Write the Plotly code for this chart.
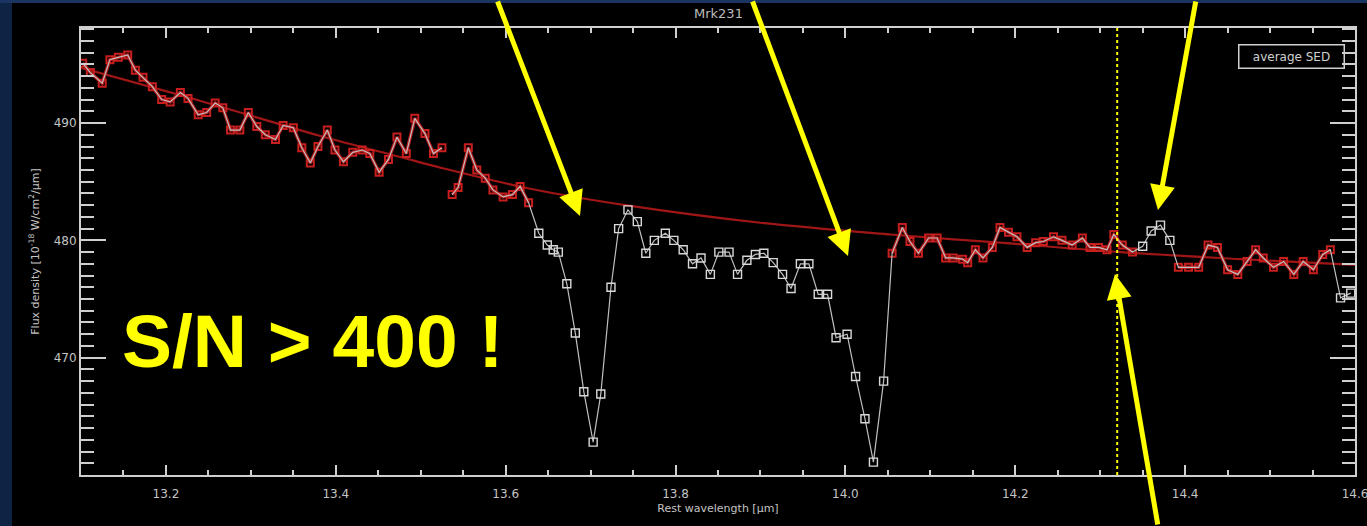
import plotly.graph_objects as go

# ---------------- data ----------------
wavelength = [13.102, 13.111, 13.125, 13.134, 13.144, 13.155, 13.164, 13.173, 13.184, 13.195,
              13.205, 13.217, 13.226, 13.238, 13.248, 13.258, 13.267, 13.276, 13.287, 13.297,
              13.307, 13.317, 13.329, 13.338, 13.350, 13.360, 13.370, 13.379, 13.390, 13.399,
              13.409, 13.420, 13.431, 13.440, 13.451, 13.462, 13.472, 13.483, 13.493, 13.505,
              13.515, 13.525, None,
              13.537, 13.544, 13.556, 13.566, 13.576, 13.585, 13.597, 13.608, 13.617, 13.627,
              13.639, 13.649, 13.656, 13.662, 13.672, 13.682, 13.692, 13.703, 13.712, 13.724,
              13.733, 13.744, 13.755, 13.765, 13.775, 13.788, 13.798, 13.809, 13.820, 13.830,
              13.841, 13.851, 13.863, 13.873, 13.884, 13.894, 13.904, 13.915, 13.926, 13.936,
              13.947, 13.957, 13.968, 13.979, 13.989, 14.002, 14.012, 14.023, 14.033, 14.045,
              14.055, 14.067, 14.076, 14.086, 14.098, 14.108, 14.118, 14.127, 14.138, 14.144,
              14.153, 14.162, 14.173, 14.182, 14.192, 14.202, 14.214, 14.224, 14.233, 14.245,
              14.255, 14.267, 14.279, 14.288, 14.298, 14.308, 14.316, 14.326, 14.338,
              14.350, 14.360, 14.371, 14.382,
              14.392, 14.404, 14.416, 14.427, 14.438, 14.450, 14.462, 14.473, 14.483, 14.492,
              14.504, 14.516, 14.528, 14.539, 14.551, 14.562, 14.571,
              14.583, 14.595]

flux = [495.1, 494.3, 493.4, 495.4, 495.6, 495.8, 494.5, 493.9, 493.1, 492.0,
        491.8, 492.6, 492.1, 490.7, 490.9, 491.7, 491.3, 489.4, 489.4, 490.9,
        489.7, 489.0, 488.6, 489.8, 489.6, 487.9, 486.6, 488.0, 489.4, 487.7,
        486.7, 487.5, 487.7, 487.4, 485.8, 486.9, 488.8, 487.4, 490.4, 489.1,
        487.4, 487.9, None,
        483.9, 484.5, 487.9, 486.0, 485.3, 484.3, 483.7, 483.9, 484.6, 483.2,
        480.6, 479.6, 479.2, 479.0, 476.3, 472.1, 467.1, 462.8, 466.9, 476.0,
        481.0, 482.6, 481.6, 478.9, 480.0, 480.6, 480.0, 479.2, 478.0, 478.5,
        477.1, 479.0, 479.0, 477.1, 478.3, 478.8, 478.9, 478.1, 477.1, 475.9,
        478.0, 478.0, 475.4, 475.4, 471.7, 472.0, 468.4, 464.8, 461.1, 468.0,
        478.9, 481.1, 479.9, 478.9, 480.2, 480.2, 478.5, 478.5, 478.4, 478.1,
        479.2, 478.5, 479.4, 481.1, 480.7, 480.3, 479.4, 479.8, 479.9, 480.3,
        480.0, 479.6, 480.2, 479.4, 479.4, 479.2, 480.5, 479.6, 479.0,
        479.5, 480.8, 481.3, 480.0,
        477.7, 477.7, 477.7, 479.6, 479.4, 477.5, 477.1, 478.2, 479.2, 478.5,
        477.7, 478.2, 477.1, 478.2, 477.5, 478.8, 479.2,
        475.1, 475.5]

# wavelength windows excluded from the continuum (line features)
feature_windows = [(13.633, 14.050), (14.345, 14.386), (14.575, 14.600)]

# average SED continuum
sed_wavelength = [13.100, 13.240, 13.382, 13.476, 13.523, 13.629, 13.741, 13.900,
                  14.053, 14.182, 14.324, 14.465, 14.601]
sed_flux = [494.7, 491.9, 488.9, 487.1, 486.2, 484.4, 483.0, 481.5,
            480.5, 479.8, 479.0, 478.4, 477.9]

marker_line = 14.32
x_range = [13.1, 14.6]
y_range = [460, 498.1]
y_ticks = [470, 480, 490]

# ---------------- derived ----------------
def in_feature(l):
    return l is not None and any(a <= l <= b for a, b in feature_windows)

cont_x = [None if (l is None or in_feature(l)) else l for l in wavelength]
cont_y = [None if (l is None or in_feature(l)) else f for l, f in zip(wavelength, flux)]
feat_x = [l for l in wavelength if in_feature(l)]
feat_y = [f for l, f in zip(wavelength, flux) if in_feature(l)]

AX = "#cfcfcf"
fig = go.Figure()

# smooth average SED line
fig.add_trace(go.Scatter(x=sed_wavelength, y=sed_flux, mode="lines",
                         line=dict(color="#a01616", width=2.2, shape="spline"),
                         hoverinfo="skip", showlegend=False))
# continuum points (red)
fig.add_trace(go.Scatter(x=cont_x, y=cont_y, mode="lines+markers",
                         line=dict(color="#b01a1a", width=3.5),
                         marker=dict(symbol="square-open", size=7, color="#c81e1e",
                                     line=dict(width=2, color="#c81e1e")),
                         connectgaps=False, showlegend=False))
# full spectrum thin white line
fig.add_trace(go.Scatter(x=wavelength, y=flux, mode="lines",
                         line=dict(color="#c0c0c0", width=1.2),
                         connectgaps=False, showlegend=False))
# line-feature points (white squares)
fig.add_trace(go.Scatter(x=feat_x, y=feat_y, mode="markers",
                         marker=dict(symbol="square-open", size=8, color="#d8d8d8",
                                     line=dict(width=1.4, color="#d8d8d8")),
                         showlegend=False))

W, H = 1367, 526
ml, mr, mt, mb = 81, 12, 28, 51
pw, ph = W - ml - mr, H - mt - mb

def px(x):
    return (x - ml) / pw

def py(y):
    return 1 - (y - mt) / ph

annotations = []
# yellow arrows: (head_x, head_y, tail_x, tail_y) in pixels
for hx, hy, tx, ty in [(580, 216, 497, -6), (848, 256, 752, -6),
                       (1158, 210, 1196, -6), (1115, 274, 1158, 535)]:
    annotations.append(dict(x=px(hx), y=py(hy), xref="paper", yref="paper",
                            ax=tx - hx, ay=ty - hy, text="", showarrow=True,
                            arrowhead=2, arrowsize=1.0, arrowwidth=5,
                            arrowcolor="#ffff00", standoff=0))

annotations.append(dict(x=px(120), y=py(341), xref="paper", yref="paper",
                        text="<b>S/N &gt; 400 !</b>", showarrow=False,
                        xanchor="left", yanchor="middle",
                        font=dict(family="Liberation Sans, Arial", size=75, color="#ffff00")))
annotations.append(dict(x=px(1291), y=py(56), xref="paper", yref="paper",
                        text="average SED", showarrow=False,
                        xanchor="center", yanchor="middle", width=100, height=18,
                        bordercolor=AX, borderwidth=1.5, borderpad=2,
                        font=dict(family="DejaVu Sans", size=12, color=AX)))
annotations.append(dict(x=0.5, y=py(14), xref="paper", yref="paper",
                        text="Mrk231", showarrow=False, xanchor="center", yanchor="middle",
                        font=dict(family="DejaVu Sans", size=13, color="#bdbdbd")))

shapes = [
    dict(type="line", xref="x", yref="paper", x0=marker_line, x1=marker_line, y0=0, y1=1,
         line=dict(color="#ffff00", width=2, dash="dot")),
    dict(type="rect", xref="paper", yref="paper", x0=px(-5), x1=px(12), y0=py(H + 5), y1=py(-5),
         fillcolor="#0f2444", line=dict(width=0), layer="below"),
    dict(type="rect", xref="paper", yref="paper", x0=px(-5), x1=px(W + 5), y0=py(3), y1=py(-5),
         fillcolor="#1b3563", line=dict(width=0), layer="below"),
]

axis_font = dict(family="DejaVu Sans", size=12, color="#c4c4c4")
title_font = dict(family="DejaVu Sans", size=11, color="#c4c4c4")
fig.update_layout(
    width=W, height=H,
    margin=dict(l=ml, r=mr, t=mt, b=mb),
    paper_bgcolor="#000000", plot_bgcolor="#000000",
    showlegend=False,
    annotations=annotations, shapes=shapes,
    xaxis=dict(range=x_range, dtick=0.2, tick0=13.2, showgrid=False, zeroline=False,
               automargin=False, ticklabeloverflow="allow",
               showline=True, linecolor=AX, linewidth=2, mirror="ticks",
               ticks="inside", ticklen=10, tickwidth=1.5, tickcolor=AX,
               minor=dict(dtick=0.05, ticks="inside", ticklen=5, tickcolor=AX, tickwidth=1.5),
               tickfont=axis_font, tickformat=".1f", ticklabelstandoff=7,
               title=dict(text="Rest wavelength [µm]", font=title_font, standoff=4)),
    yaxis=dict(range=y_range, tickvals=y_ticks, showgrid=False, zeroline=False,
               automargin=False,
               showline=True, linecolor=AX, linewidth=2, mirror="ticks",
               ticks="inside", ticklen=25, tickwidth=1.5, tickcolor=AX,
               minor=dict(dtick=1, ticks="inside", ticklen=13, tickcolor=AX, tickwidth=1.5),
               tickfont=axis_font,
               title=dict(text="Flux density [10<sup>-18</sup> W/cm<sup>2</sup>/µm]",
                          font=title_font, standoff=12)),
)

fig.write_html("out.html",
               config={"displayModeBar": False},
               post_script="document.body.style.margin='0';"
                           "document.body.style.background='#000000';"
                           "document.body.style.overflow='hidden';")
